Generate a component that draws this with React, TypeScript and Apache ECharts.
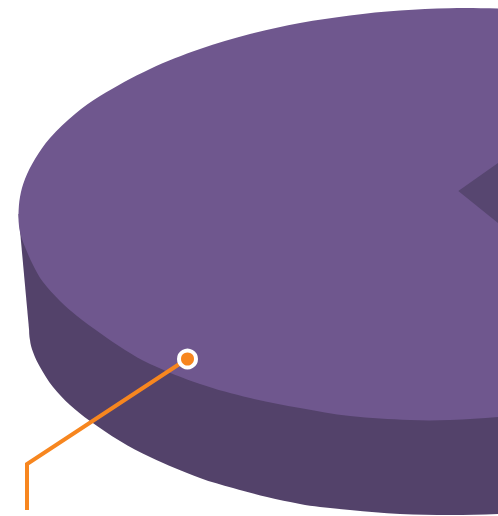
import React, { useEffect, useRef } from "react";
import * as echarts from "echarts";

// Outline of the top face: upper edge left to right,
// then lower edge right to left (the last points run past the right edge).
const topFaceUpper = [
  [18.5, 214], [20, 197], [25, 179], [35, 159], [50, 138], [75, 114], [100, 96], [150, 69],
  [200, 49], [250, 34], [300, 23], [350, 15.4], [400, 10.5], [450, 8.2], [498, 8.4], [530, 9], [560, 11],
];
const topFaceLower = [
  [590, 214], [560, 407], [530, 413], [498, 417], [450, 420], [410, 420], [350, 416], [300, 408],
  [250, 398], [200, 384], [150, 364], [125, 350], [100, 333], [77, 316], [60, 301], [43, 282],
  [33, 265], [25, 247], [21, 236], [19, 226],
];
// Lower rim of the pie, left to right; the last points close it behind the top face
const bottomRim = [
  [30, 340], [33, 352], [40, 367], [53, 387], [70, 405], [90, 421], [120, 441], [150, 457],
  [200, 478], [233, 488], [267, 497], [300, 504], [320, 507], [350, 510], [400, 514], [450, 515],
  [498, 514], [530, 511], [560, 506], [590, 300], [300, 300], [60, 300], [31, 328],
];
// Side wall joining the two rims on the left
const wallOutline = [[18.5, 214], [30, 340], [200, 340], [200, 214]];
// The wedge cut out of the top face
const wedgeOutline = [[458.3, 191], [498, 163], [498, 223]];
// Callout leader
const leaderPoints = [[27, 510], [27, 464], [187, 359]];
const markerPoint = [[187.5, 359]];

const PURPLE = "#6f578e";
const DARK = "#53426a";
const WEDGE = "#574670";
const ORANGE = "#f7861f";

function polyItem(points: number[][], color: string, smooth = 0) {
  return (_p: any, api: any) => ({
    type: "polygon",
    shape: { points: points.map((pt) => api.coord(pt)), smooth },
    style: { fill: color },
    silent: true,
  });
}

export default function App() {
  const ref = useRef<HTMLDivElement>(null);
  useEffect(() => {
    const chart = echarts.init(ref.current!, undefined, { renderer: "svg" });
    const custom = (renderItem: any, z: number) => ({
      type: "custom",
      coordinateSystem: "cartesian2d",
      data: [[0, 0]],
      renderItem,
      z,
      clip: true,
    });
    chart.setOption({
      animation: false,
      backgroundColor: "#ffffff",
      grid: { left: 0, right: 0, top: 0, bottom: 0 },
      xAxis: { type: "value", min: 0, max: 498, show: false },
      yAxis: { type: "value", min: 0, max: 516, inverse: true, show: false },
      series: [
        custom(polyItem(bottomRim, DARK, 0.35), 1),
        custom(polyItem(wallOutline, DARK), 2),
        custom(polyItem([...topFaceUpper, ...topFaceLower], PURPLE, 0.35), 3),
        custom(polyItem(wedgeOutline, WEDGE), 4),
        {
          type: "line",
          data: leaderPoints,
          z: 5,
          symbol: "none",
          silent: true,
          lineStyle: { color: ORANGE, width: 4, join: "miter", opacity: 1 },
        },
        {
          type: "scatter",
          data: markerPoint,
          z: 6,
          symbol: "circle",
          symbolSize: 17,
          silent: true,
          itemStyle: { color: ORANGE, borderColor: "#ffffff", borderWidth: 4, opacity: 1 },
        },
      ],
    });
    return () => chart.dispose();
  }, []);
  return (
    <div
      ref={ref}
      style={{ position: "fixed", left: 0, top: 0, width: 498, height: 516 }}
    />
  );
}
